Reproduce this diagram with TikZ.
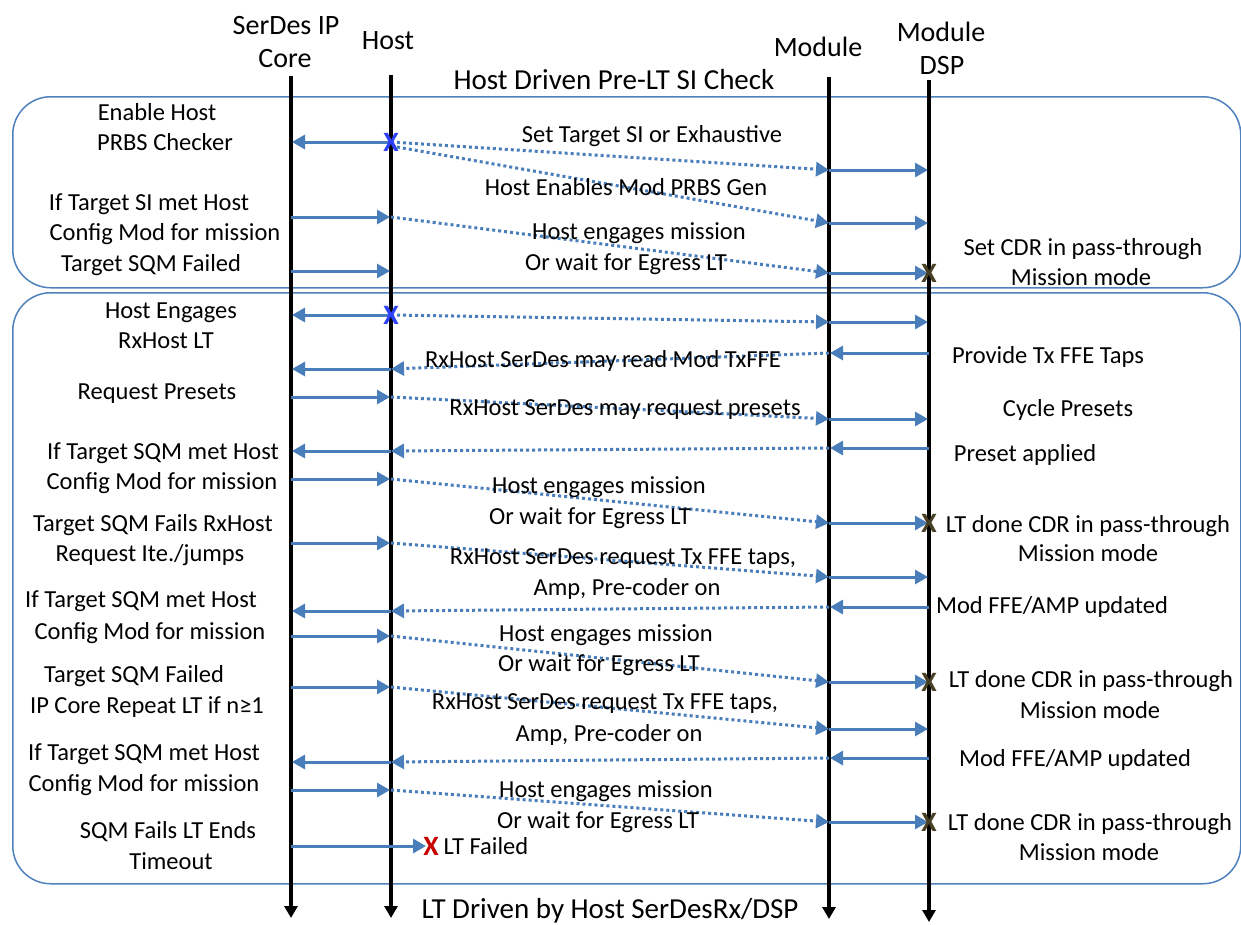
\documentclass[tikz,border=0pt]{standalone}
\usepackage{fontspec}
\setmainfont{Carlito}
\usetikzlibrary{arrows.meta}
\definecolor{msgblue}{RGB}{74,126,187}
\definecolor{boxblue}{RGB}{79,129,189}
\definecolor{xblue}{RGB}{45,65,250}
\definecolor{xdark}{RGB}{72,64,36}
\definecolor{xred}{RGB}{200,0,0}
\begin{document}
\begin{tikzpicture}[x=1pt,y=-1pt,
  lifeline/.style={line width=4pt,-{Triangle[length=12pt,width=13pt]}},
  msg/.style={draw=msgblue,line width=3pt,-{Triangle[length=13pt,width=14pt]},shorten >=1pt},
  relay/.style={draw=msgblue,line width=3pt,dash pattern=on 3pt off 3pt,-{Triangle[length=13pt,width=14pt]}},
  phase/.style={draw=boxblue,line width=1.5pt,fill=white,rounded corners=38pt},
  lbl/.style={inner sep=0pt,text height=16pt,text depth=0pt,font=\fontsize{24.5}{29}\selectfont},
  head/.style={inner sep=0pt,text height=18pt,text depth=0pt,font=\fontsize{28}{33}\selectfont},
  ttl/.style={inner sep=0pt,text height=19pt,text depth=0pt,font=\fontsize{29}{34}\selectfont},
  xmark/.style={inner sep=0pt,text height=18pt,text depth=0pt,font=\fontsize{28}{28}\selectfont\bfseries},
]
\useasboundingbox (0,0) rectangle (1241,924);

% phase frames
\node[phase,minimum width=1228pt,minimum height=191pt,anchor=north west,inner sep=0pt] (phaseA) at (12,96) {};
\node[phase,minimum width=1228pt,minimum height=591pt,anchor=north west,inner sep=0pt] (phaseB) at (12,292) {};

% participants
\node[head] (hS1) at (286,25) {SerDes IP};
\node[head] (hS2) at (285,58) {Core};
\node[head] (hH) at (388,40) {Host};
\node[head] (hM) at (818,47) {Module};
\node[head] (hD1) at (941,32) {Module};
\node[head] (hD2) at (942,65) {DSP};
\node[ttl] (tA) at (614,80) {Host Driven Pre-LT SI Check};
\node[ttl] (tB) at (610,909) {LT Driven by Host SerDesRx/DSP};

% lifelines
\coordinate (Stop) at (291,76);  \coordinate (Sbot) at (291,918);
\coordinate (Htop) at (391,75);  \coordinate (Hbot) at (391,918);
\coordinate (Mtop) at (829,77);  \coordinate (Mbot) at (829,919);
\coordinate (Dtop) at (929,80);  \coordinate (Dbot) at (929,922);
\draw[lifeline] (Stop) -- (Sbot);
\draw[lifeline] (Htop) -- (Hbot);
\draw[lifeline] (Mtop) -- (Mbot);
\draw[lifeline] (Dtop) -- (Dbot);

% endpoints on the lifelines
\newcommand\lanepts[2]{%
  \coordinate (S#1) at (291,#2); \coordinate (H#1) at (391,#2);
  \coordinate (M#1) at (829,#2); \coordinate (D#1) at (929,#2);}
\lanepts{a}{142}\lanepts{b}{170}\lanepts{c}{223}\lanepts{d}{217}
\lanepts{e}{273}\lanepts{f}{271}
\lanepts{g}{315}\lanepts{h}{322}\lanepts{i}{353}\lanepts{j}{369}
\lanepts{k}{397}\lanepts{l}{419}\lanepts{m}{448}\lanepts{n}{451}
\lanepts{o}{479}\lanepts{p}{523}\lanepts{q}{543}\lanepts{r}{577}
\lanepts{s}{607}\lanepts{t}{611}\lanepts{u}{636}\lanepts{v}{682}
\lanepts{w}{687}\lanepts{x}{729}\lanepts{y}{758}\lanepts{z}{762}
\lanepts{aa}{790}\lanepts{ab}{822}\lanepts{ac}{846}
\coordinate (Hc2) at (397,147);
\coordinate (fail) at (427,846);

% --- pre-LT SI check ---
\draw[msg] (Ha) -- (Sa);
\draw[relay] (Ha) -- (Mb);
\draw[msg] (Mb) -- (Db);
\draw[relay] (Hc2) -- (Mc);
\draw[msg] (Mc) -- (Dc);
\draw[msg] (Sd) -- (Hd);
\draw[relay] (Hd) -- (Me);
\draw[msg] (Me) -- (De);
\draw[msg] (Sf) -- (Hf);

% --- link training ---
\draw[msg] (Hg) -- (Sg);
\draw[relay] (Hg) -- (Mh);
\draw[msg] (Mh) -- (Dh);
\draw[msg] (Di) -- (Mi);
\draw[relay] (Mi) -- (Hj);
\draw[msg] (Hj) -- (Sj);
\draw[msg] (Sk) -- (Hk);
\draw[relay] (Hk) -- (Ml);
\draw[msg] (Ml) -- (Dl);
\draw[msg] (Dm) -- (Mm);
\draw[relay] (Mm) -- (Hn);
\draw[msg] (Hn) -- (Sn);
\draw[msg] (So) -- (Ho);
\draw[relay] (Ho) -- (Mp);
\draw[msg] (Mp) -- (Dp);
\draw[msg] (Sq) -- (Hq);
\draw[relay] (Hq) -- (Mr);
\draw[msg] (Mr) -- (Dr);
\draw[msg] (Ds) -- (Ms);
\draw[relay] (Ms) -- (Ht);
\draw[msg] (Ht) -- (St);
\draw[msg] (Su) -- (Hu);
\draw[relay] (Hu) -- (Mv);
\draw[msg] (Mv) -- (Dv);
\draw[msg] (Sw) -- (Hw);
\draw[relay] (Hw) -- (Mx);
\draw[msg] (Mx) -- (Dx);
\draw[msg] (Dy) -- (My);
\draw[relay] (My) -- (Hz);
\draw[msg] (Hz) -- (Sz);
\draw[msg] (Saa) -- (Haa);
\draw[relay] (Haa) -- (Mab);
\draw[msg] (Mab) -- (Dab);
\draw[msg] (Sac) -- (fail);

% markers
\node[xmark,text=xblue] (xa) at (Ha) {X};
\node[xmark,text=xblue] (xg) at (Hg) {X};
\node[xmark,text=xdark] (xe) at (De) {X};
\node[xmark,text=xdark] (xp) at (Dp) {X};
\node[xmark,text=xdark] (xv) at (Dv) {X};
\node[xmark,text=xdark] (xab) at (Dab) {X};
\node[xmark,text=xred] (xf) at (431,846) {X};
\node[lbl] (lf) at (486,846) {LT Failed};

% left notes
\node[lbl] (L1) at (157,112) {Enable Host};
\node[lbl] (L2) at (165,142) {PRBS Checker};
\node[lbl] (L3) at (149,202) {If Target SI met Host};
\node[lbl] (L4) at (165,232) {Config Mod for mission};
\node[lbl] (L5) at (151,263) {Target SQM Failed};
\node[lbl] (L6) at (171,310) {Host Engages};
\node[lbl] (L7) at (166,340) {RxHost LT};
\node[lbl] (L8) at (157,391) {Request Presets};
\node[lbl] (L9) at (163,451) {If Target SQM met Host};
\node[lbl] (L10) at (162,481) {Config Mod for mission};
\node[lbl] (L11) at (153,523) {Target SQM Fails RxHost};
\node[lbl] (L12) at (150,553) {Request Ite./jumps};
\node[lbl] (L13) at (141,599) {If Target SQM met Host};
\node[lbl] (L14) at (150,631) {Config Mod for mission};
\node[lbl] (L15) at (134,674) {Target SQM Failed};
\node[lbl] (L16) at (147,705) {IP Core Repeat LT if n≥1};
\node[lbl] (L17) at (144,752) {If Target SQM met Host};
\node[lbl] (L18) at (144,783) {Config Mod for mission};
\node[lbl] (L19) at (168,830) {SQM Fails LT Ends};
\node[lbl] (L20) at (171,861) {Timeout};

% message notes
\node[lbl] (C1) at (652,134) {Set Target SI or Exhaustive};
\node[lbl] (C2) at (626,187) {Host Enables Mod PRBS Gen};
\node[lbl] (C3) at (639,231) {Host engages mission};
\node[lbl] (C4) at (626,262) {Or wait for Egress LT};
\node[lbl] (C5) at (603,359) {RxHost SerDes may read Mod TxFFE};
\node[lbl] (C6) at (625,407) {RxHost SerDes may request presets};
\node[lbl] (C7) at (599,485) {Host engages mission};
\node[lbl] (C8) at (590,516) {Or wait for Egress LT};
\node[lbl] (C9) at (623,556) {RxHost SerDes request Tx FFE taps,};
\node[lbl] (C10) at (627,587) {Amp, Pre-coder on};
\node[lbl] (C11) at (606,633) {Host engages mission};
\node[lbl] (C12) at (599,663) {Or wait for Egress LT};
\node[lbl] (C13) at (605,701) {RxHost SerDes request Tx FFE taps,};
\node[lbl] (C14) at (609,733) {Amp, Pre-coder on};
\node[lbl] (C15) at (606,789) {Host engages mission};
\node[lbl] (C16) at (598,820) {Or wait for Egress LT};

% module DSP notes
\node[lbl] (R1) at (1083,247) {Set CDR in pass-through};
\node[lbl] (R2) at (1081,277) {Mission mode};
\node[lbl] (R3) at (1048,355) {Provide Tx FFE Taps};
\node[lbl] (R4) at (1068,408) {Cycle Presets};
\node[lbl] (R5) at (1025,453) {Preset applied};
\node[lbl] (R6) at (1088,524) {LT done CDR in pass-through};
\node[lbl] (R7) at (1088,553) {Mission mode};
\node[lbl] (R8) at (1052,605) {Mod FFE/AMP updated};
\node[lbl] (R9) at (1091,679) {LT done CDR in pass-through};
\node[lbl] (R10) at (1090,710) {Mission mode};
\node[lbl] (R11) at (1075,758) {Mod FFE/AMP updated};
\node[lbl] (R12) at (1090,822) {LT done CDR in pass-through};
\node[lbl] (R13) at (1089,852) {Mission mode};
\end{tikzpicture}
\end{document}
